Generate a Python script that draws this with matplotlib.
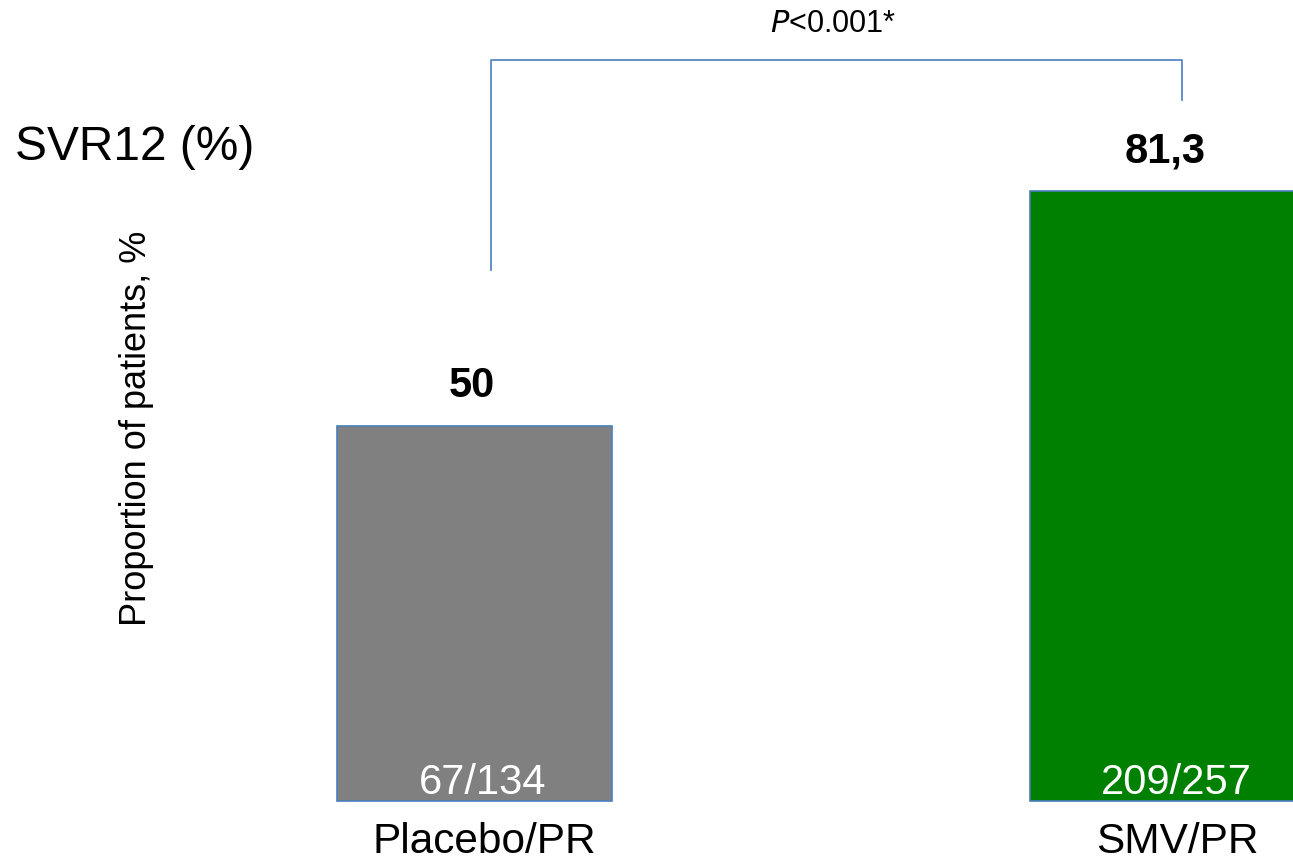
import matplotlib.pyplot as plt
from matplotlib.transforms import ScaledTranslation

plt.rcParams['font.family'] = ['Liberation Sans', 'DejaVu Sans']

# data
groups = ["Placebo/PR", "SMV/PR"]
svr12 = [50, 81.3]
value_labels = ["50", "81,3"]
counts = ["67/134", "209/257"]
bar_colors = ["#808080", "#008000"]
p_text = r"$\it{P}$<0.001*"

fig = plt.figure(figsize=(12.93, 8.6), dpi=100)
# axes fills width; baseline ~59 px above bottom edge
ax = fig.add_axes([0, 59 / 860, 1, 801 / 860])
ax.set_xlim(-0.6847, 1.1811)
ax.set_ylim(0, 106.8)

x = range(len(groups))
bars = ax.bar(x, svr12, width=0.397, color=bar_colors,
              edgecolor="#4a7ebb", linewidth=1.2, clip_on=False)

for b, v, c in zip(bars, value_labels, counts):
    cx = b.get_x() + b.get_width() / 2
    ax.annotate(v, (cx, b.get_height()), xytext=(-2, 21), textcoords="offset points",
                ha="center", va="baseline", fontsize=30, fontweight="bold")
    ax.annotate(c, (cx, 0), xytext=(6, 5), textcoords="offset points",
                ha="center", va="baseline", fontsize=30, color="white")

ax.set_xticks(list(x))
ax.set_xticklabels(groups, fontsize=30.5)
ax.tick_params(axis="x", length=0, pad=15)
# labels sit a little right of the bar centres in the original
shift = ScaledTranslation(7 / 72, 0, fig.dpi_scale_trans)
for lbl in ax.get_xticklabels():
    lbl.set_transform(lbl.get_transform() + shift)
ax.set_yticks([])
for s in ax.spines.values():
    s.set_visible(False)

# significance bracket
xl, xr = 0.024, 1.021
ax.plot([xl, xl, xr, xr], [70.8, 98.8, 98.8, 93.5], color="#5b87c5",
        linewidth=1.3, clip_on=False)
ax.text((xl + xr) / 2 - 0.005, 103.6, p_text, ha="center", va="center", fontsize=22)

fig.text(15 / 1293, 1 - 148 / 860, "SVR12 (%)", fontsize=34.5, va="center", ha="left")
fig.text(137 / 1293, 1 - 428 / 860, "Proportion of patients, %", fontsize=26,
         rotation=90, va="center", ha="center")

fig.savefig("out.png", dpi=100)
